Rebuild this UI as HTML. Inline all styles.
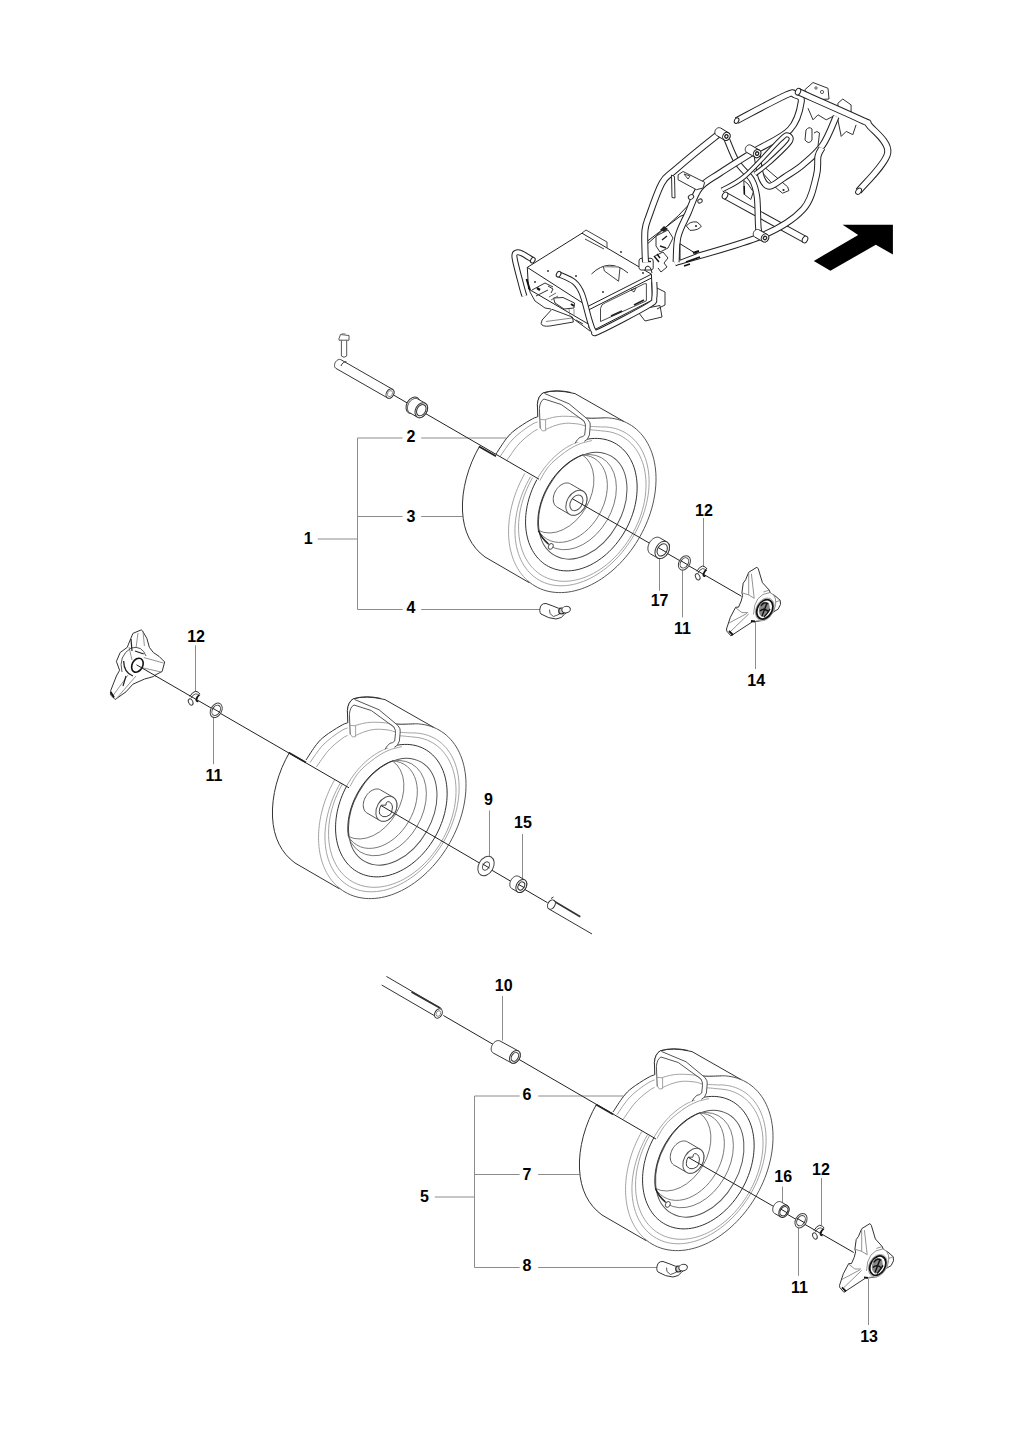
<!DOCTYPE html><html><head><meta charset="utf-8"><style>html,body{margin:0;padding:0;background:#fff;}svg{display:block}</style></head><body>
<svg width="1024" height="1435" viewBox="0 0 1024 1435">
<rect width="1024" height="1435" fill="#fff"/>
<g font-family="Liberation Sans, sans-serif" font-weight="bold" font-size="16" fill="#000">
<text x="303.7" y="544.0">1</text>
<text x="406.5" y="442.0">2</text>
<text x="406.5" y="521.5">3</text>
<text x="406.5" y="613.3">4</text>
<text x="695.0" y="515.6">12</text>
<text x="650.7" y="606.3">17</text>
<text x="674.0" y="634.0">11</text>
<text x="747.3" y="685.5">14</text>
<text x="187.2" y="641.5">12</text>
<text x="205.4" y="781.0">11</text>
<text x="484.0" y="805.3">9</text>
<text x="514.0" y="828.0">15</text>
<text x="494.8" y="990.8">10</text>
<text x="522.6" y="1100.3">6</text>
<text x="522.6" y="1179.5">7</text>
<text x="420.1" y="1202.3">5</text>
<text x="522.6" y="1271.3">8</text>
<text x="774.3" y="1181.5">16</text>
<text x="812.0" y="1174.5">12</text>
<text x="791.0" y="1292.5">11</text>
<text x="860.2" y="1341.7">13</text>
</g>
<g stroke="#8c8c8c" stroke-width="1" fill="none">
<path d="M357.5,438 V609.5"/>
<path d="M357.5,438 H402.6 M421.2,438 H506.5"/>
<path d="M357.5,516.5 H402.6 M421.2,516.5 H462.5"/>
<path d="M317.8,539 H357.5"/>
<path d="M357.5,609.5 H402.6 M421.2,609.5 H541"/>
<path d="M474.5,1096 V1267.5"/>
<path d="M474.5,1096 H519.6 M538.2,1096 H623.5"/>
<path d="M474.5,1174.5 H519.6 M538.2,1174.5 H579.5"/>
<path d="M434.8,1197 H474.5"/>
<path d="M474.5,1267.5 H519.6 M538.2,1267.5 H658"/>
<path d="M703.5,518 V566.6"/>
<path d="M659.5,558.75 V590.8"/>
<path d="M682.5,569 V617.3"/>
<path d="M755.5,621 V669"/>
<path d="M195.5,645.3 V691.8"/>
<path d="M213.5,717.8 V764.2"/>
<path d="M489.5,810.5 V855.8"/>
<path d="M522.5,834 V880"/>
<path d="M502.5,996 V1040.5"/>
<path d="M782.5,1186.7 V1202.3"/>
<path d="M821.5,1178 V1225"/>
<path d="M798.5,1228 V1275.8"/>
<path d="M868.5,1279 V1325"/>
</g>
<defs>
<g id="tire">
<path d="M479.5,446.4 C468,466 461.5,490 462.5,511 C463.5,532 472,548 485,557 L529,583 C545,591 560,594 580,589 L640,540 L658,480 L621.4,420.5 L570.6,392.4 Q557,389.5 543.3,392.8 Q537.5,398 537.4,404.5 L537.8,416 L496,454 Z" fill="#fff" stroke="none"/>
<path d="M479.5,446.4 C468,466 461.5,490 462.5,511 C463.5,532 471.5,547 485,557 L528.9,582.5" stroke="#333" stroke-width="1" fill="none" stroke-linejoin="round" stroke-linecap="round" />
<path d="M537.8,416.5 L537.4,404.5 Q538,396 543.3,392.8 Q556,389 575,393.6 L623.6,421.3" stroke="#333" stroke-width="1" fill="none" stroke-linejoin="round" stroke-linecap="round" />
<path d="M496.00,454.00 C497.73,451.43 503.23,442.60 506.40,438.60 C509.57,434.60 511.07,433.07 515.00,430.00 C518.93,426.93 526.10,422.42 530.00,420.20 C533.90,417.98 534.73,417.53 538.40,416.70 C542.07,415.87 547.53,415.38 552.00,415.20 C556.47,415.02 560.80,415.30 565.20,415.60 C569.60,415.90 574.27,416.57 578.40,417.00 C582.53,417.43 585.47,418.07 590.00,418.20 C594.53,418.33 603.00,417.87 605.60,417.80" stroke="#333" stroke-width="1" fill="none"/>
<path d="M605.57,417.77 L608.74,417.92 L611.86,418.26 L614.91,418.77 L617.90,419.47 L620.81,420.35 L623.64,421.40 L626.38,422.62 L629.03,424.02 L631.58,425.59 L634.04,427.32 L636.38,429.22 L638.61,431.27 L640.72,433.48 L642.72,435.84 L644.58,438.34 L646.32,440.98 L647.92,443.76 L649.38,446.66 L650.71,449.69 L651.89,452.83 L652.93,456.08 L653.82,459.43 L654.56,462.88 L655.15,466.42 L655.59,470.04 L655.88,473.73 L656.01,477.48 L655.99,481.30 L655.81,485.16 L655.48,489.07 L655.00,493.01 L654.37,496.97 L653.59,500.95 L652.66,504.94 L651.58,508.93 L650.36,512.92 L648.99,516.88 L647.49,520.83 L645.85,524.74 L644.08,528.61 L642.18,532.43 L640.15,536.19 L638.00,539.89 L635.74,543.52 L633.37,547.06 L630.89,550.52 L628.31,553.89 L625.63,557.15 L622.86,560.31 L620.01,563.35 L617.08,566.27 L614.07,569.06 L611.00,571.72 L607.87,574.24 L604.69,576.61 L601.46,578.84 L598.19,580.91 L594.88,582.83 L591.55,584.58 L588.21,586.17 L584.84,587.59 L581.48,588.84 L578.11,589.91 L574.76,590.81 L571.42,591.53 L568.10,592.07 L564.81,592.42 L561.56,592.60 L558.35,592.59 L555.19,592.40 L552.09,592.03 L549.05,591.48 L546.08,590.75 L543.18,589.84 L540.37,588.75 L537.65,587.49 L535.01,586.06 L532.48,584.46 L530.05,582.69 L527.73,580.76" stroke="#555" stroke-width="1" fill="none"/>
<path d="M528.60,581.52 L526.82,579.94 L525.12,578.27 L523.49,576.51 L521.93,574.65 L520.45,572.70 L519.05,570.67 L517.73,568.55 L516.50,566.36 L515.35,564.08 L514.28,561.73 L513.30,559.30 L512.41,556.81 L511.61,554.25 L510.91,551.62 L510.29,548.94 L509.76,546.20 L509.33,543.41 L508.99,540.57 L508.75,537.68 L508.60,534.76 L508.54,531.79 L508.58,528.79 L508.71,525.76 L508.94,522.70 L509.26,519.62 L509.68,516.53 L510.19,513.41 L510.79,510.29 L511.48,507.16 L512.27,504.03 L513.14,500.90 L514.10,497.78 L515.15,494.66 L516.29,491.56 L517.51,488.47 L518.81,485.41 L520.20,482.37 L521.66,479.37 L523.21,476.39 L524.82,473.45" stroke="#999" stroke-width="0.9" fill="none"/>
<path d="M500.00,456.60 C502.17,453.67 508.00,444.17 513.00,439.00 C518.00,433.83 525.35,428.52 530.00,425.60 C534.65,422.68 535.90,422.02 540.90,421.50 C545.90,420.98 553.48,421.83 560.00,422.50 C566.52,423.17 574.97,424.85 580.00,425.50 C585.03,426.15 586.37,426.15 590.20,426.40 C594.03,426.65 600.87,426.90 603.00,427.00" stroke="#999" stroke-width="0.9" fill="none"/>
<path d="M603.03,426.88 L606.25,427.00 L609.40,427.33 L612.48,427.86 L615.48,428.59 L618.40,429.53 L621.22,430.66 L623.94,431.99 L626.55,433.52 L629.05,435.23 L631.42,437.13 L633.67,439.20 L635.78,441.45 L637.75,443.87 L639.58,446.45 L641.26,449.19 L642.78,452.07 L644.15,455.10 L645.36,458.25 L646.40,461.53 L647.28,464.93 L647.99,468.44 L648.52,472.04 L648.89,475.73 L649.08,479.50 L649.09,483.34 L648.94,487.24 L648.61,491.19 L648.10,495.18 L647.43,499.20 L646.58,503.24 L645.57,507.28 L644.40,511.32 L643.06,515.35 L641.56,519.36 L639.91,523.33 L638.11,527.26 L636.17,531.13 L634.08,534.94 L631.86,538.67 L629.51,542.32 L627.04,545.88 L624.45,549.34 L621.75,552.68 L618.95,555.91 L616.05,559.00 L613.06,561.96 L610.00,564.77 L606.86,567.44 L603.65,569.94 L600.40,572.28 L597.09,574.45 L593.74,576.45 L590.37,578.26 L586.97,579.88 L583.56,581.31 L580.14,582.55 L576.73,583.60 L573.33,584.44 L569.96,585.08 L566.62,585.51 L563.31,585.74 L560.06,585.77 L556.86,585.59 L553.73,585.20 L550.67,584.61 L547.69,583.82 L544.80,582.82 L542.01,581.63 L539.32,580.24 L536.75,578.66 L534.28,576.89 L531.95,574.94 L529.74,572.81 L527.67,570.51 L525.74,568.05 L523.95,565.42 L522.32,562.64 L520.84,559.72 L519.52,556.65 L518.36,553.46 L517.36,550.14 L516.54,546.71 L515.88,543.18 L515.39,539.55 L515.08,535.83 L514.94,532.04 L514.98,528.18 L515.18,524.27 L515.56,520.30 L516.12,516.31 L516.84,512.28 L517.73,508.24 L518.79,504.20 L520.02,500.16 L521.40,496.13 L522.94,492.14 L524.64,488.18 L526.48,484.26 L528.47,480.41 L530.59,476.62" stroke="#999" stroke-width="0.9" fill="none"/>
<path d="M506.40,461.00 C508.33,458.33 514.07,449.47 518.00,445.00 C521.93,440.53 526.30,436.91 530.00,434.20 C533.70,431.49 535.20,429.70 540.20,428.75 C545.20,427.80 553.37,428.41 560.00,428.50 C566.63,428.59 574.97,429.08 580.00,429.30 C585.03,429.52 586.37,429.52 590.20,429.80 C594.03,430.08 600.87,430.80 603.00,431.00" stroke="#999" stroke-width="0.9" fill="none"/>
<path d="M603.01,431.01 L606.03,431.27 L609.00,431.73 L611.89,432.37 L614.70,433.20 L617.44,434.22 L620.08,435.42 L622.63,436.80 L625.07,438.36 L627.41,440.10 L629.63,442.00 L631.72,444.07 L633.69,446.29 L635.53,448.67 L637.24,451.20 L638.80,453.86 L640.22,456.66 L641.49,459.59 L642.61,462.63 L643.58,465.79 L644.38,469.05 L645.03,472.40 L645.52,475.84 L645.85,479.36 L646.01,482.95 L646.01,486.59 L645.85,490.29 L645.53,494.02 L645.04,497.79 L644.40,501.58 L643.59,505.38 L642.63,509.18 L641.51,512.97 L640.25,516.75 L638.83,520.50 L637.27,524.21 L635.57,527.88 L633.73,531.49 L631.76,535.03 L629.67,538.50 L627.45,541.89 L625.12,545.19 L622.67,548.39 L620.13,551.48 L617.49,554.45 L614.76,557.30 L611.94,560.02 L609.05,562.60 L606.09,565.04 L603.07,567.32 L600.00,569.45 L596.88,571.42 L593.72,573.22 L590.54,574.85 L587.33,576.30 L584.11,577.57 L580.89,578.66 L577.67,579.57 L574.46,580.29 L571.27,580.81 L568.11,581.15 L564.99,581.29 L561.91,581.25 L558.88,581.01 L555.91,580.57 L553.01,579.95 L550.19,579.14 L547.44,578.14 L544.79,576.96 L542.23,575.60 L539.78,574.06 L537.43,572.34 L535.20,570.46 L533.08,568.41 L531.10,566.20 L529.24,563.84 L527.52,561.33 L525.95,558.68 L524.51,555.90 L523.22,552.99 L522.09,549.95 L521.10,546.81 L520.28,543.56 L519.61,540.22 L519.10,536.79 L518.76,533.28 L518.58,529.70 L518.56,526.06 L518.70,522.37 L519.01,518.64 L519.47,514.87 L520.10,511.09 L520.89,507.29 L521.83,503.49 L522.93,499.69 L524.18,495.91 L525.58,492.16 L527.13,488.44 L528.81,484.77 L530.64,481.15 L532.59,477.60" stroke="#999" stroke-width="0.9" fill="none"/>
<path d="M575.31,442.88 L578.07,441.77 L580.84,440.81 L583.61,440.01 L586.38,439.37 L589.13,438.89 L591.86,438.57 L594.57,438.41 L597.25,438.42 L599.88,438.59 L602.47,438.93 L605.01,439.42 L607.49,440.08 L609.91,440.90 L612.25,441.87 L614.52,443.00 L616.70,444.28 L618.80,445.71 L620.81,447.29 L622.72,449.01 L624.53,450.86 L626.23,452.85 L627.82,454.96 L629.29,457.20 L630.65,459.56 L631.89,462.02 L633.00,464.59 L633.98,467.26 L634.83,470.02 L635.55,472.87 L636.14,475.80 L636.59,478.79 L636.91,481.85 L637.09,484.97 L637.13,488.14 L637.03,491.34 L636.80,494.58 L636.43,497.85 L635.92,501.13 L635.28,504.42 L634.51,507.71 L633.60,510.99 L632.57,514.25 L631.40,517.50 L630.12,520.71 L628.72,523.88 L627.19,527.00 L625.56,530.07 L623.82,533.08 L621.97,536.01 L620.02,538.87 L617.97,541.65 L615.84,544.33 L613.62,546.91 L611.32,549.40 L608.95,551.77 L606.50,554.02 L604.00,556.15 L601.44,558.16 L598.83,560.03 L596.18,561.76 L593.49,563.36 L590.77,564.81 L588.03,566.11 L585.27,567.26 L582.50,568.26 L579.73,569.10 L576.96,569.78 L574.21,570.29 L571.47,570.65 L568.75,570.85 L566.07,570.88 L563.42,570.74 L560.82,570.45 L558.27,569.99 L555.78,569.37 L553.35,568.59 L550.98,567.65 L548.70,566.56 L546.49,565.32 L544.37,563.92 L542.34,562.38 L540.41,560.70 L538.57,558.87 L536.85,556.92 L535.23,554.83 L533.73,552.62 L532.34,550.30 L531.08,547.86 L529.94,545.31 L528.92,542.66 L528.04,539.92 L527.29,537.10 L526.67,534.19 L526.18,531.21 L525.83,528.16 L525.62,525.06 L525.55,521.90 L525.61,518.71 L525.81,515.47 L526.15,512.21 L526.63,508.94 L527.23,505.65 L527.98,502.36 L528.85,499.07 L529.86,495.80 L530.99,492.55 L532.24,489.33 L533.62,486.15 L535.11,483.02 L536.72,479.93" stroke="#333" stroke-width="1" fill="none"/>
<path d="M536.72,479.93 L538.14,477.41 L539.64,474.94 L541.21,472.52 L542.85,470.15 L544.55,467.84 L546.32,465.59 L548.14,463.41 L550.02,461.30 L551.96,459.27 L553.95,457.31 L555.98,455.44 L558.06,453.64 L560.17,451.94 L562.33,450.32 L564.51,448.80 L566.73,447.38 L568.96,446.05 L571.22,444.82 L573.50,443.69 L575.79,442.67" stroke="#999" stroke-width="0.9" fill="none"/>
<path d="M540.00,480.50 C541.00,478.75 543.67,473.25 546.00,470.00 C548.33,466.75 550.32,464.33 554.00,461.00 C557.68,457.67 563.77,452.87 568.10,450.00 C572.43,447.13 576.02,445.37 580.00,443.80 C583.98,442.23 590.00,441.13 592.00,440.60" stroke="#999" stroke-width="0.9" fill="none"/>
<ellipse cx="582.74" cy="505.68" rx="57.12" ry="39.25" transform="rotate(-60.58 582.74 505.68)" stroke="#555" stroke-width="1" fill="none"/>
<path d="M538.4,530.4 A57.12,39.25 -60.58 0 1 583.5,454.5" stroke="#2a2a2a" stroke-width="1" fill="none"/>
<path d="M582.5,455 A51.0,35.70 -60 1 1 538.4,530.4" stroke="#6a6a6a" stroke-width="0.9" fill="none"/>
<path d="M582.5,455 A46.8,32.76 -60 1 1 538.4,530.4" stroke="#6a6a6a" stroke-width="0.9" fill="none"/>
<path d="M582.5,455 A43.7,30.59 -60 0 1 538.4,530.4" stroke="#6a6a6a" stroke-width="0.9" fill="none"/>
<path d="M537.6,431 L537.4,404.5 Q538,396 543.3,392.8 L569,403.75 L587.8,419.4 Q591,424 590.2,427 L589.4,435 Q588,440 584.7,441.25 L575.3,442.8 L562,447 L550,455 L541,462 Z" fill="#fff" stroke="none"/>
<path d="M545.60,419.40 C547.17,419.00 551.73,417.52 555.00,417.00 C558.27,416.48 561.30,416.18 565.20,416.25 C569.10,416.32 575.28,416.61 578.40,417.40 C581.52,418.19 582.98,420.40 583.90,421.00" stroke="#999" stroke-width="0.9" fill="none" stroke-linejoin="round" stroke-linecap="round" />
<path d="M545.60,429.50 C547.17,428.85 551.73,426.63 555.00,425.60 C558.27,424.57 561.37,423.57 565.20,423.30 C569.03,423.03 574.70,423.55 578.00,424.00 C581.30,424.45 583.83,425.67 585.00,426.00" stroke="#999" stroke-width="0.9" fill="none" stroke-linejoin="round" stroke-linecap="round" />
<path d="M544.8,393.6 L569,403.75 L587.8,419.4 Q591,423 590.2,426 L589.4,435 Q588,440 584.7,441.25" stroke="#555" stroke-width="1" fill="none" stroke-linejoin="round" stroke-linecap="round" />
<path d="M540.2,428 L539.4,408.4 Q540,401 544,399 L561.25,404.5 L583.9,421 Q585.8,424 585.5,427.2 L584.7,435 Q583,437 580,437.3 Q577,439.5 575.3,442.8" stroke="#555" stroke-width="1" fill="none" stroke-linejoin="round" stroke-linecap="round" />
<path d="M540.2,419.4 L545.6,419.8 L545.6,430.6 L542.5,431 L540.2,428" stroke="#999" stroke-width="0.9" fill="none" stroke-linejoin="round" stroke-linecap="round" />
<path d="M537.8,416.5 L537.4,404.5 Q538,396 543.3,392.8 Q556,389 570.6,392.4" stroke="#333" stroke-width="1" fill="none" stroke-linejoin="round" stroke-linecap="round" />
</g>
<g id="hubA">
<path d="M553.27,499.77 L553.28,498.52 L553.40,497.23 L553.64,495.93 L553.99,494.62 L554.44,493.32 L555.00,492.04 L555.66,490.80 L556.40,489.61 L557.23,488.49 L558.13,487.44 L559.09,486.49 L560.10,485.63 L561.15,484.88 L562.23,484.24 L563.33,483.73 L564.44,483.35 L565.53,483.10 L566.61,482.99 L567.66,483.01 L568.66,483.17 L569.61,483.47 L570.50,483.90 L583.10,491.20 L583.91,491.75 L584.65,492.43 L585.29,493.22 L585.83,494.11 L586.27,495.10 L586.61,496.17 L586.83,497.32 L586.93,498.53 L586.92,499.78 L586.80,501.07 L586.56,502.37 L586.21,503.68 L585.76,504.98 L585.20,506.26 L584.54,507.50 L583.80,508.69 L582.97,509.81 L582.07,510.86 L581.11,511.81 L580.10,512.67 L579.05,513.42 L577.97,514.06 L576.87,514.57 L575.76,514.95 L574.67,515.20 L573.59,515.31 L572.54,515.29 L571.54,515.13 L570.59,514.83 L569.70,514.40 L557.10,507.10 L556.29,506.55 L555.55,505.87 L554.91,505.08 L554.37,504.19 L553.93,503.20 L553.59,502.13 L553.37,500.98 Z" stroke="#555" stroke-width="1" fill="#fff"/>
<ellipse cx="576.4" cy="502.8" rx="13.4" ry="9.4" transform="rotate(-60 576.4 502.8)" stroke="#555" stroke-width="1" fill="#fff"/>
<ellipse cx="576.4" cy="502.8" rx="8.4" ry="5.8" transform="rotate(-60 576.4 502.8)" stroke="#555" stroke-width="1" fill="none"/>
</g>
<g id="hubB">
<path d="M553.27,499.77 L553.28,498.52 L553.40,497.23 L553.64,495.93 L553.99,494.62 L554.44,493.32 L555.00,492.04 L555.66,490.80 L556.40,489.61 L557.23,488.49 L558.13,487.44 L559.09,486.49 L560.10,485.63 L561.15,484.88 L562.23,484.24 L563.33,483.73 L564.44,483.35 L565.53,483.10 L566.61,482.99 L567.66,483.01 L568.66,483.17 L569.61,483.47 L570.50,483.90 L583.10,491.20 L583.91,491.75 L584.65,492.43 L585.29,493.22 L585.83,494.11 L586.27,495.10 L586.61,496.17 L586.83,497.32 L586.93,498.53 L586.92,499.78 L586.80,501.07 L586.56,502.37 L586.21,503.68 L585.76,504.98 L585.20,506.26 L584.54,507.50 L583.80,508.69 L582.97,509.81 L582.07,510.86 L581.11,511.81 L580.10,512.67 L579.05,513.42 L577.97,514.06 L576.87,514.57 L575.76,514.95 L574.67,515.20 L573.59,515.31 L572.54,515.29 L571.54,515.13 L570.59,514.83 L569.70,514.40 L557.10,507.10 L556.29,506.55 L555.55,505.87 L554.91,505.08 L554.37,504.19 L553.93,503.20 L553.59,502.13 L553.37,500.98 Z" stroke="#555" stroke-width="1" fill="#fff"/>
<ellipse cx="576.4" cy="502.8" rx="13.4" ry="9.4" transform="rotate(-60 576.4 502.8)" stroke="#555" stroke-width="1" fill="#fff"/>
<path d="M571.1,499.2 L575.9,499.2 Q575.8,496.5 577.5,495.6 Q581.5,495.5 582.5,501 Q582,507.5 579.9,508.9 Q576,511.5 572.8,510.6 Q568.5,508.5 569.3,505.4 Q569.5,501.5 571.1,499.2 Z" stroke="#444" stroke-width="1" fill="none"/>
</g>
<g id="valvehole">
<path d="M538.4,530.4 Q541,537 548.5,544" stroke="#1a1a1a" stroke-width="1.3" fill="none"/>
<ellipse cx="550.8" cy="546.4" rx="3" ry="2.2" transform="rotate(-60 550.8 546.4)" stroke="#555" stroke-width="0.9" fill="#fff"/>
</g>
</defs>
<use href="#tire"/>
<use href="#hubA"/>
<use href="#valvehole"/>
<use href="#tire" transform="translate(-190,306)"/>
<use href="#hubB" transform="translate(-190,306)"/>
<use href="#tire" transform="translate(117,658)"/>
<use href="#hubB" transform="translate(117,658)"/>
<use href="#valvehole" transform="translate(117,658)"/>
<g stroke="#222" stroke-width="1" fill="none">
<path d="M394,395.3 L539,479.2"/>
<path d="M572.2,498.6 L741.6,596.3"/>
<path d="M479,446.5 L496,456.3" stroke-width="1.8"/>
<path d="M154.7,675.4 L349,787.8"/>
<path d="M381.1,805.6 L547.5,902.7"/>
<path d="M289,752.7 L306,762.5" stroke-width="1.8"/>
<path d="M443.4,1015.5 L656,1139"/>
<path d="M688.1,1157.3 L853.75,1252.5"/>
<path d="M596,1104.5 L613,1114.3" stroke-width="1.8"/>
</g>
<path d="M341.4,340.2 L341.4,356 Q344,358.5 346.7,356 L346.7,340.2" stroke="#555" stroke-width="1" fill="#fff"/>
<path d="M339,338.5 L340.5,334.5 L349,335.5 L349,340.2 L339,340.2 Z" stroke="#555" stroke-width="1" fill="#fff"/>
<path d="M341.5,333.8 L345.5,333.8" stroke="#888" stroke-width="1"/>
<path d="M334.50,365.50 L334.51,365.11 L334.55,364.71 L334.62,364.30 L334.71,363.89 L334.84,363.48 L335.00,363.08 L335.18,362.68 L335.38,362.30 L335.61,361.93 L335.86,361.57 L336.14,361.24 L336.43,360.93 L336.73,360.64 L337.05,360.38 L337.38,360.14 L337.72,359.94 L338.06,359.76 L338.41,359.63 L338.76,359.52 L339.11,359.45 L339.45,359.42 L339.78,359.42 L340.11,359.45 L340.42,359.52 L340.72,359.63 L341.00,359.77 L392.50,389.27 L392.76,389.44 L393.00,389.65 L393.22,389.88 L393.42,390.15 L393.58,390.44 L393.72,390.75 L393.84,391.08 L393.92,391.44 L393.97,391.81 L394.00,392.20 L393.99,392.59 L393.95,392.99 L393.88,393.40 L393.79,393.81 L393.66,394.22 L393.50,394.62 L393.32,395.02 L393.12,395.40 L392.89,395.77 L392.64,396.12 L392.36,396.46 L392.07,396.77 L391.77,397.06 L391.45,397.32 L391.12,397.56 L390.78,397.76 L390.44,397.94 L390.09,398.07 L389.74,398.18 L389.39,398.25 L389.05,398.29 L388.72,398.29 L388.39,398.25 L388.08,398.18 L387.78,398.07 L387.50,397.93 L336.00,368.43 L335.74,368.26 L335.50,368.05 L335.28,367.82 L335.08,367.55 L334.92,367.26 L334.78,366.95 L334.66,366.62 L334.58,366.26 L334.53,365.89 Z" stroke="#333" stroke-width="1" fill="#fff" stroke-linejoin="round"/>
<ellipse cx="390" cy="393.6" rx="5.0" ry="3.6" transform="rotate(-60 390 393.6)" stroke="#333" stroke-width="1" fill="#fff"/>
<ellipse cx="390" cy="393.6" rx="3.2" ry="2.3" transform="rotate(-60 390 393.6)" stroke="#777" stroke-width="0.8" fill="none"/>
<path d="M341,366 A5,3.6 -60 0 1 346.5,361.8" stroke="#333" stroke-width="1" fill="none"/>
<ellipse cx="413" cy="405.2" rx="8.8" ry="6.3" transform="rotate(-60 413 405.2)" stroke="#333" stroke-width="1" fill="#fff"/>
<path d="M407.45,408.17 L407.46,407.54 L407.52,406.90 L407.64,406.25 L407.79,405.59 L408.00,404.94 L408.24,404.30 L408.53,403.67 L408.86,403.05 L409.23,402.46 L409.63,401.89 L410.07,401.35 L410.53,400.85 L411.02,400.39 L411.52,399.97 L412.05,399.59 L412.59,399.26 L413.14,398.99 L413.69,398.76 L414.25,398.59 L414.80,398.48 L415.34,398.42 L415.87,398.42 L416.39,398.47 L416.88,398.58 L417.36,398.75 L417.80,398.97 L425.30,403.27 L425.71,403.55 L426.10,403.87 L426.44,404.25 L426.75,404.66 L427.01,405.12 L427.23,405.62 L427.41,406.16 L427.54,406.73 L427.62,407.32 L427.65,407.93 L427.64,408.56 L427.57,409.20 L427.46,409.86 L427.31,410.51 L427.10,411.16 L426.86,411.80 L426.57,412.44 L426.24,413.05 L425.87,413.64 L425.47,414.21 L425.03,414.75 L424.57,415.25 L424.08,415.71 L423.57,416.13 L423.05,416.51 L422.51,416.84 L421.96,417.11 L421.41,417.34 L420.86,417.51 L420.30,417.62 L419.76,417.68 L419.23,417.69 L418.71,417.63 L418.22,417.52 L417.75,417.35 L417.30,417.13 L409.80,412.83 L409.38,412.55 L409.00,412.23 L408.66,411.85 L408.35,411.44 L408.09,410.98 L407.87,410.48 L407.69,409.94 L407.56,409.38 L407.48,408.78 Z" stroke="#333" stroke-width="1" fill="#fff" stroke-linejoin="round"/>
<ellipse cx="421.3" cy="410.2" rx="8.0" ry="5.7" transform="rotate(-60 421.3 410.2)" stroke="#333" stroke-width="1" fill="#fff"/>
<ellipse cx="421.3" cy="410.2" rx="6.0" ry="4.3" transform="rotate(-60 421.3 410.2)" stroke="#333" stroke-width="1" fill="none"/>
<path d="M647.90,548.59 L647.92,547.86 L648.00,547.11 L648.13,546.36 L648.32,545.60 L648.56,544.85 L648.85,544.10 L649.19,543.36 L649.57,542.65 L650.00,541.96 L650.46,541.30 L650.97,540.68 L651.50,540.09 L652.06,539.55 L652.65,539.06 L653.26,538.62 L653.88,538.23 L654.51,537.91 L655.14,537.64 L655.78,537.44 L656.41,537.30 L657.03,537.23 L657.64,537.22 L658.24,537.28 L658.80,537.40 L659.34,537.59 L659.85,537.85 L666.85,541.85 L667.32,542.16 L667.76,542.53 L668.15,542.96 L668.50,543.44 L668.79,543.97 L669.04,544.55 L669.24,545.17 L669.38,545.82 L669.47,546.50 L669.50,547.21 L669.48,547.94 L669.40,548.69 L669.27,549.44 L669.08,550.20 L668.84,550.96 L668.55,551.70 L668.21,552.44 L667.83,553.15 L667.40,553.84 L666.94,554.50 L666.43,555.12 L665.90,555.71 L665.34,556.25 L664.75,556.74 L664.14,557.18 L663.52,557.57 L662.89,557.89 L662.26,558.16 L661.62,558.36 L660.99,558.50 L660.37,558.57 L659.76,558.58 L659.16,558.52 L658.60,558.40 L658.06,558.21 L657.55,557.95 L650.55,553.95 L650.08,553.64 L649.64,553.27 L649.25,552.84 L648.90,552.36 L648.61,551.83 L648.36,551.25 L648.16,550.63 L648.02,549.98 L647.93,549.30 Z" stroke="#333" stroke-width="1" fill="#fff" stroke-linejoin="round"/>
<ellipse cx="662.2" cy="549.9" rx="9.3" ry="6.5" transform="rotate(-60 662.2 549.9)" stroke="#333" stroke-width="1" fill="#fff"/>
<ellipse cx="662.2" cy="549.9" rx="6.6" ry="4.6" transform="rotate(-60 662.2 549.9)" stroke="#333" stroke-width="1" fill="none"/>
<path d="M658.3,547.6 L666.5,552.4" stroke="#222" stroke-width="1"/>
<ellipse cx="684.4" cy="562.9" rx="7.7" ry="5.4" transform="rotate(-60 684.4 562.9)" stroke="#444" stroke-width="1" fill="#fff"/>
<ellipse cx="684.4" cy="562.9" rx="5.5" ry="3.8" transform="rotate(-60 684.4 562.9)" stroke="#444" stroke-width="1" fill="none"/>
<path d="M680.5,560.6 L688.3,565.1" stroke="#222" stroke-width="1"/>
<path d="M696.80,571.30 Q699.30,566.80 702.50,566.00 Q705.80,566.50 707.00,569.00" stroke="#333" stroke-width="1" fill="none"/>
<path d="M698.10,573.00 Q699.80,569.00 702.80,568.60 Q704.80,568.80 705.90,570.20" stroke="#444" stroke-width="0.9" fill="none"/>
<path d="M706.50,569.50 Q703.60,571.80 703.30,574.60 Q703.60,576.60 705.30,576.00" stroke="#111" stroke-width="1.7" fill="none"/>
<ellipse cx="697.70" cy="576.80" rx="2.1" ry="3.3" transform="rotate(-25 697.70 576.80)" stroke="#444" stroke-width="1" fill="none"/>
<ellipse cx="216.2" cy="710.3" rx="7.7" ry="5.4" transform="rotate(-60 216.2 710.3)" stroke="#444" stroke-width="1" fill="#fff"/>
<ellipse cx="216.2" cy="710.3" rx="5.5" ry="3.8" transform="rotate(-60 216.2 710.3)" stroke="#444" stroke-width="1" fill="none"/>
<path d="M212.3,708 L220.1,712.5" stroke="#222" stroke-width="1"/>
<path d="M189.80,696.50 Q192.30,692.00 195.50,691.20 Q198.80,691.70 200.00,694.20" stroke="#333" stroke-width="1" fill="none"/>
<path d="M191.10,698.20 Q192.80,694.20 195.80,693.80 Q197.80,694.00 198.90,695.40" stroke="#444" stroke-width="0.9" fill="none"/>
<path d="M199.50,694.70 Q196.60,697.00 196.30,699.80 Q196.60,701.80 198.30,701.20" stroke="#111" stroke-width="1.7" fill="none"/>
<ellipse cx="190.70" cy="702.00" rx="2.1" ry="3.3" transform="rotate(-25 190.70 702.00)" stroke="#444" stroke-width="1" fill="none"/>
<ellipse cx="486" cy="866" rx="10.4" ry="7.3" transform="rotate(-60 486 866)" stroke="#444" stroke-width="1" fill="#fff"/>
<ellipse cx="486" cy="866" rx="4.5" ry="3.1" transform="rotate(-60 486 866)" stroke="#444" stroke-width="1" fill="none"/>
<path d="M482.5,864 L489.5,868" stroke="#222" stroke-width="1"/>
<path d="M509.80,884.52 L509.82,883.97 L509.88,883.41 L509.98,882.84 L510.12,882.27 L510.30,881.70 L510.51,881.14 L510.77,880.59 L511.06,880.05 L511.38,879.53 L511.73,879.03 L512.11,878.56 L512.51,878.12 L512.93,877.72 L513.38,877.35 L513.83,877.02 L514.30,876.73 L514.77,876.48 L515.25,876.28 L515.73,876.13 L516.21,876.02 L516.68,875.97 L517.14,875.97 L517.58,876.01 L518.01,876.10 L518.42,876.25 L518.80,876.44 L524.80,879.94 L525.16,880.17 L525.48,880.46 L525.78,880.78 L526.04,881.14 L526.26,881.54 L526.45,881.98 L526.60,882.44 L526.71,882.93 L526.77,883.45 L526.80,883.98 L526.78,884.53 L526.73,885.09 L526.62,885.66 L526.49,886.23 L526.30,886.80 L526.09,887.36 L525.83,887.91 L525.54,888.45 L525.22,888.97 L524.87,889.47 L524.49,889.94 L524.09,890.38 L523.67,890.78 L523.23,891.15 L522.77,891.48 L522.30,891.77 L521.83,892.02 L521.35,892.22 L520.87,892.37 L520.39,892.48 L519.92,892.53 L519.46,892.53 L519.02,892.49 L518.59,892.40 L518.18,892.25 L517.80,892.06 L511.80,888.56 L511.44,888.33 L511.12,888.04 L510.82,887.72 L510.56,887.36 L510.33,886.96 L510.15,886.52 L510.00,886.06 L509.89,885.57 L509.82,885.05 Z" stroke="#333" stroke-width="1" fill="#fff" stroke-linejoin="round"/>
<ellipse cx="521.3" cy="886" rx="7.0" ry="4.9" transform="rotate(-60 521.3 886)" stroke="#333" stroke-width="1" fill="#fff"/>
<ellipse cx="521.3" cy="886" rx="4.3" ry="3.0" transform="rotate(-60 521.3 886)" stroke="#333" stroke-width="1" fill="none"/>
<path d="M518.3,884.3 L524.3,887.7" stroke="#222" stroke-width="1"/>
<path d="M549,909 L592,934" stroke="#333" stroke-width="1"/>
<path d="M553.75,901 L580.3,916.7" stroke="#333" stroke-width="1.7"/>
<ellipse cx="551.4" cy="904.6" rx="5.0" ry="3.5" transform="rotate(-60 551.4 904.6)" stroke="#333" stroke-width="1" fill="#fff"/>
<path d="M551,898.5 L553.5,897" stroke="#333" stroke-width="1"/>
<path d="M386.4,976.4 L441.5,1008.6 M381.7,985 L435,1016" stroke="#333" stroke-width="1"/>
<path d="M411.5,992 L440,1008" stroke="#333" stroke-width="1.8"/>
<ellipse cx="438.4" cy="1013.5" rx="5.0" ry="3.5" transform="rotate(-60 438.4 1013.5)" stroke="#333" stroke-width="1" fill="#fff"/>
<ellipse cx="438.4" cy="1013.5" rx="3.0" ry="2.1" transform="rotate(-60 438.4 1013.5)" stroke="#777" stroke-width="0.8" fill="none"/>
<path d="M491.20,1049.00 L491.22,1048.46 L491.27,1047.91 L491.38,1047.35 L491.51,1046.79 L491.69,1046.23 L491.91,1045.67 L492.16,1045.13 L492.44,1044.60 L492.76,1044.09 L493.11,1043.60 L493.48,1043.13 L493.87,1042.70 L494.29,1042.30 L494.73,1041.93 L495.17,1041.61 L495.63,1041.32 L496.10,1041.08 L496.57,1040.88 L497.04,1040.73 L497.51,1040.62 L497.97,1040.57 L498.42,1040.56 L498.86,1040.61 L499.28,1040.70 L499.68,1040.84 L500.05,1041.02 L518.35,1050.92 L518.70,1051.16 L519.02,1051.43 L519.31,1051.75 L519.56,1052.11 L519.78,1052.50 L519.97,1052.92 L520.11,1053.38 L520.22,1053.87 L520.28,1054.37 L520.30,1054.90 L520.28,1055.44 L520.23,1055.99 L520.12,1056.55 L519.99,1057.11 L519.81,1057.67 L519.59,1058.23 L519.34,1058.77 L519.06,1059.30 L518.74,1059.81 L518.39,1060.30 L518.02,1060.77 L517.63,1061.20 L517.21,1061.60 L516.77,1061.97 L516.33,1062.29 L515.87,1062.58 L515.40,1062.82 L514.93,1063.02 L514.46,1063.17 L513.99,1063.28 L513.53,1063.33 L513.08,1063.34 L512.64,1063.29 L512.22,1063.20 L511.82,1063.06 L511.45,1062.88 L493.15,1052.98 L492.80,1052.74 L492.48,1052.47 L492.19,1052.15 L491.94,1051.79 L491.72,1051.40 L491.53,1050.97 L491.39,1050.52 L491.29,1050.04 L491.22,1049.53 Z" stroke="#333" stroke-width="1" fill="#fff" stroke-linejoin="round"/>
<ellipse cx="514.9" cy="1056.9" rx="6.9" ry="4.8" transform="rotate(-60 514.9 1056.9)" stroke="#333" stroke-width="1" fill="#fff"/>
<ellipse cx="514.9" cy="1056.9" rx="4.7" ry="3.3" transform="rotate(-60 514.9 1056.9)" stroke="#333" stroke-width="1" fill="none"/>
<path d="M772.73,1209.61 L772.74,1209.09 L772.80,1208.57 L772.89,1208.03 L773.03,1207.49 L773.20,1206.96 L773.40,1206.43 L773.64,1205.91 L773.92,1205.40 L774.22,1204.91 L774.55,1204.44 L774.91,1204.00 L775.28,1203.58 L775.68,1203.20 L776.10,1202.85 L776.53,1202.54 L776.97,1202.26 L777.42,1202.03 L777.87,1201.84 L778.32,1201.70 L778.77,1201.60 L779.21,1201.55 L779.64,1201.54 L780.06,1201.58 L780.46,1201.67 L780.84,1201.81 L781.20,1201.98 L787.20,1205.48 L787.53,1205.71 L787.84,1205.97 L788.12,1206.27 L788.36,1206.62 L788.57,1206.99 L788.75,1207.40 L788.89,1207.84 L788.99,1208.30 L789.05,1208.79 L789.07,1209.29 L789.06,1209.81 L789.00,1210.33 L788.90,1210.87 L788.77,1211.41 L788.60,1211.94 L788.40,1212.47 L788.16,1212.99 L787.88,1213.50 L787.58,1213.99 L787.25,1214.46 L786.89,1214.90 L786.51,1215.32 L786.12,1215.70 L785.70,1216.05 L785.27,1216.36 L784.83,1216.64 L784.38,1216.87 L783.93,1217.06 L783.48,1217.20 L783.03,1217.30 L782.59,1217.35 L782.16,1217.36 L781.74,1217.32 L781.34,1217.23 L780.96,1217.09 L780.60,1216.92 L774.60,1213.42 L774.26,1213.19 L773.96,1212.93 L773.68,1212.63 L773.44,1212.28 L773.23,1211.91 L773.05,1211.50 L772.91,1211.06 L772.81,1210.60 L772.75,1210.12 Z" stroke="#333" stroke-width="1" fill="#fff" stroke-linejoin="round"/>
<ellipse cx="783.9" cy="1211.2" rx="6.6" ry="4.6" transform="rotate(-60 783.9 1211.2)" stroke="#333" stroke-width="1" fill="#fff"/>
<ellipse cx="783.9" cy="1211.2" rx="5.0" ry="3.5" transform="rotate(-60 783.9 1211.2)" stroke="#333" stroke-width="1" fill="none"/>
<path d="M780.7,1209 L787.3,1212.9" stroke="#222" stroke-width="1"/>
<ellipse cx="801" cy="1220.7" rx="7.7" ry="5.4" transform="rotate(-60 801 1220.7)" stroke="#444" stroke-width="1" fill="#fff"/>
<ellipse cx="801" cy="1220.7" rx="5.5" ry="3.8" transform="rotate(-60 801 1220.7)" stroke="#444" stroke-width="1" fill="none"/>
<path d="M797.1,1218.4 L804.9,1222.9" stroke="#222" stroke-width="1"/>
<path d="M814.00,1230.50 Q816.50,1226.00 819.70,1225.20 Q823.00,1225.70 824.20,1228.20" stroke="#333" stroke-width="1" fill="none"/>
<path d="M815.30,1232.20 Q817.00,1228.20 820.00,1227.80 Q822.00,1228.00 823.10,1229.40" stroke="#444" stroke-width="0.9" fill="none"/>
<path d="M823.70,1228.70 Q820.80,1231.00 820.50,1233.80 Q820.80,1235.80 822.50,1235.20" stroke="#111" stroke-width="1.7" fill="none"/>
<ellipse cx="814.90" cy="1236.00" rx="2.1" ry="3.3" transform="rotate(-25 814.90 1236.00)" stroke="#444" stroke-width="1" fill="none"/>
<g transform="translate(0,0)">
<path d="M541,605.5 Q543,603 546,603.5 Q552,605.5 558.3,608.2 L562,608.5 L566,613 L564.7,614 Q562,618.5 556,619 Q549,618.8 541,614 Q538.5,611 541,605.5 Z" stroke="#333" stroke-width="1" fill="#fff"/>
<path d="M549.5,609.6 Q548.5,614 553.4,616.5 Q557,615.5 560.3,613.5" stroke="#444" stroke-width="0.9" fill="none"/>
<ellipse cx="561.5" cy="611" rx="2.8" ry="3" fill="#ccc" stroke="#222" stroke-width="1.1"/>
<ellipse cx="566.1" cy="609.6" rx="4.3" ry="3.3" transform="rotate(-12 566.1 609.6)" fill="#fff" stroke="#333" stroke-width="1"/>
</g>
<g transform="translate(117,658)">
<path d="M541,605.5 Q543,603 546,603.5 Q552,605.5 558.3,608.2 L562,608.5 L566,613 L564.7,614 Q562,618.5 556,619 Q549,618.8 541,614 Q538.5,611 541,605.5 Z" stroke="#333" stroke-width="1" fill="#fff"/>
<path d="M549.5,609.6 Q548.5,614 553.4,616.5 Q557,615.5 560.3,613.5" stroke="#444" stroke-width="0.9" fill="none"/>
<ellipse cx="561.5" cy="611" rx="2.8" ry="3" fill="#ccc" stroke="#222" stroke-width="1.1"/>
<ellipse cx="566.1" cy="609.6" rx="4.3" ry="3.3" transform="rotate(-12 566.1 609.6)" fill="#fff" stroke="#333" stroke-width="1"/>
</g>
<g transform="translate(0,0)">
<path d="M748.7,572.3 L756.9,567.2 L758.3,568.9 L762.4,582.6 L769.2,590.1 L770.6,593.5 L774.7,595.5 L780.2,600.3 L780.5,604.4 L778.1,609.2 L773.3,612 L764.4,620.2 L755.5,621.5 L752.8,621.5 L730.9,635.9 L726.8,631.1 L726.5,629 L730.3,617.4 L735.7,607.2 L738.5,607.2 L741.2,601 L742.6,595.5 L741.9,592.8 L743.2,583.2 L745.6,579.8 Z" stroke="#333" stroke-width="1" fill="#fff" stroke-linejoin="round"/>
<path d="M751.4,573.7 L754.2,598.3 M748.7,573 L748.7,594.9 L742,592.8 M748.7,594.9 L754.2,598.3 M735.7,607.8 L741.9,612.6 L748,612.6 M729,623 L747,613.4 M730.9,631.1 L748.7,614 M763.4,592 L769.2,590.1 M773.3,594.5 L776,602 L780.2,600.3" stroke="#777" stroke-width="0.8" fill="none"/>
<path d="M753.5,614.5 Q754,594 770,592.5 Q779,596 774,611 Q768,621 756,621" stroke="#777" stroke-width="0.8" fill="#fff"/>
<ellipse cx="764.8" cy="609.3" rx="12.0" ry="8.6" transform="rotate(-62 764.8 609.3)" stroke="#999" stroke-width="0.8" fill="#fff"/>
<ellipse cx="764.8" cy="609.3" rx="10.3" ry="7.3" transform="rotate(-62 764.8 609.3)" stroke="#111" stroke-width="1.8" fill="#fff"/>
<path d="M760,604 Q764,600 769,603 L770,609 Q767,617 762,617 Q758,614 759,609 Z" fill="#888" stroke="none"/>
<path d="M761,606 Q764,601 768,604 M760,611 Q764,607 769,612 M762,616 L767,603 M764,617 Q768,613 770,609" stroke="#111" stroke-width="1.4" fill="none"/>
<path d="M729,631 L733,635" stroke="#111" stroke-width="1.8"/>
<path d="M751,621 L755,621.5" stroke="#111" stroke-width="1.8"/>
</g>
<g transform="translate(113,656.4)">
<path d="M748.7,572.3 L756.9,567.2 L758.3,568.9 L762.4,582.6 L769.2,590.1 L770.6,593.5 L774.7,595.5 L780.2,600.3 L780.5,604.4 L778.1,609.2 L773.3,612 L764.4,620.2 L755.5,621.5 L752.8,621.5 L730.9,635.9 L726.8,631.1 L726.5,629 L730.3,617.4 L735.7,607.2 L738.5,607.2 L741.2,601 L742.6,595.5 L741.9,592.8 L743.2,583.2 L745.6,579.8 Z" stroke="#333" stroke-width="1" fill="#fff" stroke-linejoin="round"/>
<path d="M751.4,573.7 L754.2,598.3 M748.7,573 L748.7,594.9 L742,592.8 M748.7,594.9 L754.2,598.3 M735.7,607.8 L741.9,612.6 L748,612.6 M729,623 L747,613.4 M730.9,631.1 L748.7,614 M763.4,592 L769.2,590.1 M773.3,594.5 L776,602 L780.2,600.3" stroke="#777" stroke-width="0.8" fill="none"/>
<path d="M753.5,614.5 Q754,594 770,592.5 Q779,596 774,611 Q768,621 756,621" stroke="#777" stroke-width="0.8" fill="#fff"/>
<ellipse cx="764.8" cy="609.3" rx="12.0" ry="8.6" transform="rotate(-62 764.8 609.3)" stroke="#999" stroke-width="0.8" fill="#fff"/>
<ellipse cx="764.8" cy="609.3" rx="10.3" ry="7.3" transform="rotate(-62 764.8 609.3)" stroke="#111" stroke-width="1.8" fill="#fff"/>
<path d="M760,604 Q764,600 769,603 L770,609 Q767,617 762,617 Q758,614 759,609 Z" fill="#888" stroke="none"/>
<path d="M761,606 Q764,601 768,604 M760,611 Q764,607 769,612 M762,616 L767,603 M764,617 Q768,613 770,609" stroke="#111" stroke-width="1.4" fill="none"/>
<path d="M729,631 L733,635" stroke="#111" stroke-width="1.8"/>
<path d="M751,621 L755,621.5" stroke="#111" stroke-width="1.8"/>
</g>
<path d="M132.9,633.4 L141.2,629.9 L142.5,630.9 L146.9,638.5 L149.4,647.4 L153.3,652.5 L159,656.3 L164.7,662 L162.1,671.5 L155.8,674.7 L153.3,676.6 L144.4,679.1 L132.9,684.2 L126,691.8 L115.2,699.5 L110.7,695 L110.7,690.6 L116.4,676 L119.6,670.3 L116.4,661.4 L120.2,652.5 L127.2,647.4 Z" stroke="#333" stroke-width="1" fill="#fff" stroke-linejoin="round"/>
<path d="M138,633 L136.1,647.4 M143,631.5 L144.4,646 M129,647 L132,660 M128,675 L112,697 M136,676 L116,699 M143.7,657.5 L163.5,663 M141.8,667.6 L161,672" stroke="#777" stroke-width="0.8" fill="none"/>
<path d="M122,672 Q118,656 131,648 Q142,645 146,656" stroke="#444" stroke-width="0.9" fill="none"/>
<path d="M123.6,661 Q124,673 133,676" stroke="#222" stroke-width="1.3" fill="none"/>
<path d="M131,639 L132,651 M135,651 L143.7,654 M126,676 L123,686" stroke="#222" stroke-width="1.2" fill="none"/>
<ellipse cx="137.4" cy="665.2" rx="7.4" ry="5.3" transform="rotate(-62 137.4 665.2)" stroke="#111" stroke-width="1.6" fill="#fff"/>
<path d="M110.7,692 L114,697.5" stroke="#111" stroke-width="1.8"/>
<path d="M136.5,664.8 L156,676.1" stroke="#222" stroke-width="1"/>
<path d="M842.6,224.8 L892.9,224.8 L892.9,254.55 L875.8,244.8 L830.4,270.7 L813.8,260.9 L858.2,235 Z" fill="#000"/>
<g id="frame">
<path d="M527.3,267.4 L582,233.2 L651.4,274.2 L652.5,300 L592,331 L590,325 L528.5,289 Z" fill="#fff" stroke="#222" stroke-width="1"/>
<path d="M527.3,267.4 L587.9,306.4 L651.4,274.2" fill="none" stroke="#222" stroke-width="1"/>
<path d="M588.5,310 L651.4,278" fill="none" stroke="#222" stroke-width="1"/>
<path d="M587.9,306.4 L589,328" fill="none" stroke="#222" stroke-width="1"/>
<path d="M600.5,321.5 L600.5,308.6 Q601,304 605.4,302.7 L644.5,283.7 L646.4,283.7 L646.4,300.8 Z" fill="#fff" stroke="#333" stroke-width="0.9"/>
<path d="M611,316 L622,311 M634,305 L644,300" stroke="#222" stroke-width="1.6"/>
<path d="M631,290 L636,288 L634,292 Z" fill="none" stroke="#333" stroke-width="0.9"/>
<path d="M582,233 L586,230 L607,242 L607,248 M585,239 L604,249" fill="none" stroke="#444" stroke-width="1"/>
<path d="M591.5,274 Q609,257 628,273" fill="none" stroke="#333" stroke-width="1"/>
<path d="M603.4,266.6 L604.4,271 L618.6,281.25 L620,267.6" fill="none" stroke="#444" stroke-width="1"/>
<path d="M604,266.5 L619,267" stroke="#999" stroke-width="1.5"/>
<circle cx="548" cy="271" r="0.9" fill="#222"/>
<circle cx="576" cy="276" r="0.9" fill="#222"/>
<circle cx="621" cy="252" r="0.9" fill="#222"/>
<circle cx="643" cy="273" r="0.9" fill="#222"/>
<circle cx="603" cy="292" r="0.9" fill="#222"/>
<circle cx="535" cy="282" r="0.9" fill="#222"/>
<path d="M542.1,320 L551.9,309.3 L572.4,317.1 L573.4,322 L549.9,326 Q542,327 541.1,323.5 Z" fill="#fff" stroke="#333" stroke-width="1"/>
<path d="M546,321.5 L572,318" stroke="#666" stroke-width="0.8"/>
<path d="M636.7,310 L660,305.5 L662,317 L645,321 Z" fill="#fff" stroke="#333" stroke-width="1"/>
<path d="M655,287 L665,292 L665,305 L657,309" fill="none" stroke="#333" stroke-width="1"/>
<path d="M527,279 L530,292 L535,301 L545,308 L551,309 M532,290 L545,283 L553,287 M536,296 L548,290 M548,286 L553,289 L551,293" fill="none" stroke="#333" stroke-width="1"/>
<path d="M526.5,279 L530,290" stroke="#111" stroke-width="1.8"/>
<path d="M537,288 L540,290" stroke="#111" stroke-width="2.2"/>
<path d="M553.5,298 L563,297.5 L574.5,303 L574,308 L564,309 L555,303 Z" fill="#fff" stroke="#333" stroke-width="1"/>
<path d="M549,297 L556,293 M551,300 L558,296" stroke="#555" stroke-width="0.9"/>
<path d="M571,304 L574,306" stroke="#111" stroke-width="2"/>
<path d="M569,309 L570,316 M574,309 L574,316" stroke="#777" stroke-width="0.8"/>
<path d="M571,317 L590,331 M576,320 L583,324" stroke="#333" stroke-width="1"/>
<path d="M532.20,259.60 C530.50,258.58 524.62,254.68 522.00,253.50 C519.38,252.32 517.73,251.75 516.50,252.50 C515.27,253.25 513.77,252.42 514.60,258.00 C515.43,263.58 519.87,279.67 521.50,286.00 C523.13,292.33 523.92,294.33 524.40,296.00" stroke="#222" stroke-width="6" fill="none" stroke-linecap="butt" stroke-linejoin="round"/>
<path d="M532.20,259.60 C530.50,258.58 524.62,254.68 522.00,253.50 C519.38,252.32 517.73,251.75 516.50,252.50 C515.27,253.25 513.77,252.42 514.60,258.00 C515.43,263.58 519.87,279.67 521.50,286.00 C523.13,292.33 523.92,294.33 524.40,296.00" stroke="#fff" stroke-width="4" fill="none" stroke-linecap="butt" stroke-linejoin="round"/>
<ellipse cx="532.8" cy="260.2" rx="3" ry="2.0999999999999996" transform="rotate(-60 532.8 260.2)" stroke="#222" stroke-width="1" fill="#fff"/>
<path d="M558.60,274.20 C561.20,275.50 570.30,278.74 574.20,282.00 C578.10,285.26 579.40,287.25 582.00,293.75 C584.60,300.25 587.84,314.81 589.80,321.00 C591.76,327.19 592.05,329.23 593.75,330.90 C595.45,332.57 590.89,335.23 600.00,331.00 C609.11,326.77 639.35,311.05 648.40,305.50 C657.45,299.95 653.32,301.62 654.30,297.70 C655.28,293.78 654.30,284.62 654.30,282.00" stroke="#222" stroke-width="6" fill="none" stroke-linecap="butt" stroke-linejoin="round"/>
<path d="M558.60,274.20 C561.20,275.50 570.30,278.74 574.20,282.00 C578.10,285.26 579.40,287.25 582.00,293.75 C584.60,300.25 587.84,314.81 589.80,321.00 C591.76,327.19 592.05,329.23 593.75,330.90 C595.45,332.57 590.89,335.23 600.00,331.00 C609.11,326.77 639.35,311.05 648.40,305.50 C657.45,299.95 653.32,301.62 654.30,297.70 C655.28,293.78 654.30,284.62 654.30,282.00" stroke="#fff" stroke-width="4" fill="none" stroke-linecap="butt" stroke-linejoin="round"/>
<ellipse cx="558.6" cy="274.2" rx="3" ry="2.0999999999999996" transform="rotate(-60 558.6 274.2)" stroke="#222" stroke-width="1" fill="#fff"/>
<path d="M641,258.3 L651,258.3 Q653.2,258.5 653.2,261 L653.2,268 Q653,270 651,270 L641,270 Q639,269.5 639,267.5 L639,261 Q639,258.5 641,258.3 Z" fill="#fff" stroke="#333" stroke-width="1"/>
<path d="M642,261.5 L651,261.5" stroke="#222" stroke-width="1.4"/>
<path d="M645,270 Q645,266 648,266 Q651,267 651.5,271 L652,273" fill="none" stroke="#222" stroke-width="1"/>
<path d="M655,256 L663,252 L668,258 L664,263 L667,267 L661,272 L658,268" fill="#fff" stroke="#333" stroke-width="1"/>
<path d="M654,256 L659,262 M657,254 L660,258" stroke="#111" stroke-width="1.4"/>
<path d="M725.00,195.50 L805.00,239.50" stroke="#222" stroke-width="7.5" fill="none" stroke-linecap="butt" stroke-linejoin="round"/>
<path d="M725.00,195.50 L805.00,239.50" stroke="#fff" stroke-width="5.5" fill="none" stroke-linecap="butt" stroke-linejoin="round"/>
<ellipse cx="725" cy="195.5" rx="3.6" ry="2.52" transform="rotate(-62 725 195.5)" stroke="#222" stroke-width="1" fill="#fff"/>
<ellipse cx="805" cy="239.5" rx="3.6" ry="2.52" transform="rotate(-62 805 239.5)" stroke="#222" stroke-width="1" fill="#fff"/>
<path d="M762.2,165.2 L787.6,186.8 L788.9,190.6 L782.5,193.2 L776.2,188 L760,170 Z" fill="#fff" stroke="#333" stroke-width="1"/>
<circle cx="783.5" cy="190" r="1.1" fill="#222"/>
<path d="M643.3,247.7 L678.4,215.6 L692.5,200.8 L686.25,214 L680,216.4 L648,240.6 Z" fill="#fff" stroke="#222" stroke-width="1" stroke-linejoin="round"/>
<path d="M660,230 L664,226 L668,229 L664,232 Z" fill="#222"/>
<path d="M645.50,262.00 C645.42,260.08 645.08,255.83 645.00,250.50 C644.92,245.17 644.33,235.75 645.00,230.00 C645.67,224.25 646.17,223.83 649.00,216.00 C651.83,208.17 657.67,190.67 662.00,183.00 C666.33,175.33 666.17,177.67 675.00,170.00 C683.83,162.33 707.50,142.92 715.00,137.00 C722.50,131.08 719.17,134.92 720.00,134.50" stroke="#222" stroke-width="7" fill="none" stroke-linecap="butt" stroke-linejoin="round"/>
<path d="M645.50,262.00 C645.42,260.08 645.08,255.83 645.00,250.50 C644.92,245.17 644.33,235.75 645.00,230.00 C645.67,224.25 646.17,223.83 649.00,216.00 C651.83,208.17 657.67,190.67 662.00,183.00 C666.33,175.33 666.17,177.67 675.00,170.00 C683.83,162.33 707.50,142.92 715.00,137.00 C722.50,131.08 719.17,134.92 720.00,134.50" stroke="#fff" stroke-width="5" fill="none" stroke-linecap="butt" stroke-linejoin="round"/>
<path d="M726.30,138.00 C728.08,142.00 732.72,155.00 737.00,162.00 C741.28,169.00 748.67,174.17 752.00,180.00 C755.33,185.83 755.92,188.83 757.00,197.00 C758.08,205.17 757.67,222.50 758.50,229.00 C759.33,235.50 761.42,234.83 762.00,236.00" stroke="#222" stroke-width="6.5" fill="none" stroke-linecap="butt" stroke-linejoin="round"/>
<path d="M726.30,138.00 C728.08,142.00 732.72,155.00 737.00,162.00 C741.28,169.00 748.67,174.17 752.00,180.00 C755.33,185.83 755.92,188.83 757.00,197.00 C758.08,205.17 757.67,222.50 758.50,229.00 C759.33,235.50 761.42,234.83 762.00,236.00" stroke="#fff" stroke-width="4.5" fill="none" stroke-linecap="butt" stroke-linejoin="round"/>
<path d="M757.00,155.00 C757.75,158.82 759.37,172.70 761.50,177.90 C763.63,183.10 765.88,186.35 769.80,186.20 C773.72,186.05 779.47,180.60 785.00,177.00 C790.53,173.40 796.68,169.98 803.00,164.60 C809.32,159.22 817.37,152.72 822.90,144.70 C828.43,136.68 833.98,121.20 836.20,116.50" stroke="#222" stroke-width="7" fill="none" stroke-linecap="butt" stroke-linejoin="round"/>
<path d="M757.00,155.00 C757.75,158.82 759.37,172.70 761.50,177.90 C763.63,183.10 765.88,186.35 769.80,186.20 C773.72,186.05 779.47,180.60 785.00,177.00 C790.53,173.40 796.68,169.98 803.00,164.60 C809.32,159.22 817.37,152.72 822.90,144.70 C828.43,136.68 833.98,121.20 836.20,116.50" stroke="#fff" stroke-width="5" fill="none" stroke-linecap="butt" stroke-linejoin="round"/>
<path d="M674.80,262.80 C689.17,258.37 739.63,245.10 761.00,236.20 C782.37,227.30 793.78,219.40 803.00,209.40 C812.22,199.40 813.80,185.05 816.30,176.20 C818.80,167.35 817.05,161.00 818.00,156.30 C818.95,151.60 821.33,149.38 822.00,148.00" stroke="#222" stroke-width="7" fill="none" stroke-linecap="butt" stroke-linejoin="round"/>
<path d="M674.80,262.80 C689.17,258.37 739.63,245.10 761.00,236.20 C782.37,227.30 793.78,219.40 803.00,209.40 C812.22,199.40 813.80,185.05 816.30,176.20 C818.80,167.35 817.05,161.00 818.00,156.30 C818.95,151.60 821.33,149.38 822.00,148.00" stroke="#fff" stroke-width="5" fill="none" stroke-linecap="butt" stroke-linejoin="round"/>
<path d="M676.10,262.00 C676.43,257.70 676.10,244.37 678.10,236.20 C680.10,228.03 684.50,221.03 688.10,213.00 C691.70,204.97 694.38,194.67 699.70,188.00 C705.02,181.33 710.95,179.08 720.00,173.00 C729.05,166.92 742.38,158.70 754.00,151.50 C765.62,144.30 781.82,138.13 789.70,129.80 C797.58,121.47 800.47,107.32 801.30,101.50 C802.13,95.68 797.18,96.00 794.70,94.90 C792.22,93.80 796.08,90.62 786.40,94.90 C776.72,99.18 744.90,116.32 736.60,120.60" stroke="#222" stroke-width="7" fill="none" stroke-linecap="butt" stroke-linejoin="round"/>
<path d="M676.10,262.00 C676.43,257.70 676.10,244.37 678.10,236.20 C680.10,228.03 684.50,221.03 688.10,213.00 C691.70,204.97 694.38,194.67 699.70,188.00 C705.02,181.33 710.95,179.08 720.00,173.00 C729.05,166.92 742.38,158.70 754.00,151.50 C765.62,144.30 781.82,138.13 789.70,129.80 C797.58,121.47 800.47,107.32 801.30,101.50 C802.13,95.68 797.18,96.00 794.70,94.90 C792.22,93.80 796.08,90.62 786.40,94.90 C776.72,99.18 744.90,116.32 736.60,120.60" stroke="#fff" stroke-width="5" fill="none" stroke-linecap="butt" stroke-linejoin="round"/>
<ellipse cx="736.6" cy="120.6" rx="3" ry="2.0999999999999996" transform="rotate(-62 736.6 120.6)" stroke="#222" stroke-width="1" fill="#fff"/>
<path d="M680,243.75 L696.4,253.9 L680,260.2 Z" fill="#fff" stroke="#222" stroke-width="1"/>
<path d="M693,253 L699,251" stroke="#111" stroke-width="2"/>
<path d="M686,262 L700,257 M684,266 L690,264" stroke="#111" stroke-width="1.6"/>
<path d="M804.7,89.9 L813,82.5 L828,88.3 L829,99 L812,100 Z" fill="#fff" stroke="#333" stroke-width="1"/>
<circle cx="816" cy="88" r="1.2" fill="none" stroke="#333" stroke-width="0.8"/><circle cx="822" cy="92" r="1.6" fill="none" stroke="#333" stroke-width="0.8"/>
<path d="M837.9,103.2 L842.8,99 L851.1,104.9 L851.1,112 L838,110 Z" fill="#fff" stroke="#333" stroke-width="1"/>
<path d="M808,108.2 L813,119.8 L818,114.8 L826.2,119.8 L832.9,116.5" fill="none" stroke="#333" stroke-width="1"/>
<path d="M837.9,119.8 L841.2,136.4 L846.2,131.4 L852.8,134.7 L856.1,124.8" fill="none" stroke="#333" stroke-width="1"/>
<path d="M806,130 Q809,126 812,129 L812,140 Q809,145 805,140 Z M814,133 Q817,130 819.5,133 L818,146" fill="none" stroke="#333" stroke-width="1"/>
<path d="M798.00,91.60 C808.52,96.30 849.20,114.13 861.10,119.80 C873.00,125.47 864.97,120.07 869.40,125.60 C873.83,131.13 889.50,142.07 887.70,153.00 C885.90,163.93 863.45,184.83 858.60,191.20" stroke="#222" stroke-width="7.2" fill="none" stroke-linecap="butt" stroke-linejoin="round"/>
<path d="M798.00,91.60 C808.52,96.30 849.20,114.13 861.10,119.80 C873.00,125.47 864.97,120.07 869.40,125.60 C873.83,131.13 889.50,142.07 887.70,153.00 C885.90,163.93 863.45,184.83 858.60,191.20" stroke="#fff" stroke-width="5.2" fill="none" stroke-linecap="butt" stroke-linejoin="round"/>
<ellipse cx="798" cy="91.6" rx="3.5" ry="2.4499999999999997" transform="rotate(-64 798 91.6)" stroke="#222" stroke-width="1" fill="#fff"/>
<ellipse cx="858.6" cy="191.2" rx="3.5" ry="2.4499999999999997" transform="rotate(-52 858.6 191.2)" stroke="#222" stroke-width="1" fill="#fff"/>
<path d="M714.85,132.25 L714.87,131.90 L714.91,131.55 L714.99,131.20 L715.09,130.85 L715.21,130.51 L715.37,130.18 L715.54,129.86 L715.74,129.55 L715.97,129.26 L716.21,128.99 L716.47,128.74 L716.75,128.51 L717.04,128.31 L717.34,128.13 L717.65,127.98 L717.97,127.85 L718.29,127.76 L718.62,127.70 L718.95,127.66 L719.27,127.66 L719.59,127.69 L719.90,127.75 L720.20,127.84 L720.49,127.96 L720.77,128.10 L728.57,132.80 L728.83,132.98 L729.07,133.18 L729.28,133.40 L729.48,133.65 L729.66,133.92 L729.81,134.21 L729.93,134.51 L730.03,134.83 L730.10,135.16 L730.14,135.50 L730.15,135.85 L730.13,136.20 L730.09,136.55 L730.01,136.90 L729.91,137.25 L729.79,137.59 L729.63,137.92 L729.46,138.24 L729.26,138.55 L729.03,138.84 L728.79,139.11 L728.53,139.36 L728.25,139.59 L727.96,139.79 L727.66,139.97 L727.35,140.12 L727.03,140.25 L726.71,140.34 L726.38,140.40 L726.05,140.44 L725.73,140.44 L725.41,140.41 L725.10,140.35 L724.80,140.26 L724.51,140.14 L724.23,140.00 L716.43,135.30 L716.17,135.12 L715.93,134.92 L715.72,134.70 L715.52,134.45 L715.34,134.18 L715.19,133.89 L715.07,133.59 L714.97,133.27 L714.90,132.94 L714.86,132.60 Z" stroke="#222" stroke-width="1" fill="#fff" stroke-linejoin="round"/>
<ellipse cx="726.4" cy="136.4" rx="4.2" ry="3.57" transform="rotate(121.07165806084656 726.4 136.4)" stroke="#222" stroke-width="1" fill="#fff"/>
<ellipse cx="726.4" cy="136.4" rx="1.764" ry="1.596" transform="rotate(121.07165806084656 726.4 136.4)" stroke="#222" stroke-width="1.3" fill="#fff"/>
<path d="M745.26,149.52 L745.27,149.16 L745.31,148.81 L745.38,148.46 L745.47,148.11 L745.59,147.77 L745.74,147.43 L745.91,147.11 L746.11,146.80 L746.33,146.50 L746.56,146.23 L746.82,145.97 L747.09,145.74 L747.38,145.53 L747.68,145.35 L747.99,145.19 L748.31,145.06 L748.63,144.97 L748.96,144.90 L749.28,144.86 L749.61,144.85 L749.92,144.87 L750.24,144.93 L750.54,145.01 L750.83,145.12 L751.11,145.27 L759.21,149.97 L759.47,150.14 L759.71,150.33 L759.93,150.56 L760.14,150.80 L760.32,151.06 L760.47,151.35 L760.60,151.65 L760.70,151.97 L760.77,152.30 L760.82,152.64 L760.84,152.98 L760.83,153.34 L760.79,153.69 L760.72,154.04 L760.63,154.39 L760.51,154.73 L760.36,155.07 L760.19,155.39 L759.99,155.70 L759.77,156.00 L759.54,156.27 L759.28,156.53 L759.01,156.76 L758.72,156.97 L758.42,157.15 L758.11,157.31 L757.79,157.44 L757.47,157.53 L757.14,157.60 L756.82,157.64 L756.50,157.65 L756.17,157.63 L755.86,157.57 L755.56,157.49 L755.27,157.38 L754.99,157.23 L746.89,152.53 L746.63,152.36 L746.39,152.17 L746.16,151.94 L745.96,151.70 L745.78,151.44 L745.63,151.15 L745.50,150.85 L745.40,150.53 L745.33,150.20 L745.28,149.86 Z" stroke="#222" stroke-width="1" fill="#fff" stroke-linejoin="round"/>
<ellipse cx="757.1" cy="153.6" rx="4.2" ry="3.57" transform="rotate(120.12431799836108 757.1 153.6)" stroke="#222" stroke-width="1" fill="#fff"/>
<ellipse cx="757.1" cy="153.6" rx="1.764" ry="1.596" transform="rotate(120.12431799836108 757.1 153.6)" stroke="#222" stroke-width="1.3" fill="#fff"/>
<path d="M753.27,234.17 L753.28,233.81 L753.31,233.46 L753.37,233.11 L753.46,232.76 L753.58,232.41 L753.72,232.07 L753.89,231.75 L754.08,231.44 L754.29,231.14 L754.53,230.86 L754.78,230.60 L755.05,230.37 L755.34,230.15 L755.63,229.97 L755.94,229.81 L756.26,229.67 L756.58,229.57 L756.90,229.50 L757.23,229.46 L757.55,229.44 L757.87,229.46 L758.18,229.51 L758.49,229.59 L758.78,229.70 L759.06,229.84 L767.06,234.34 L767.32,234.51 L767.57,234.70 L767.79,234.92 L768.00,235.16 L768.18,235.42 L768.34,235.71 L768.47,236.00 L768.58,236.32 L768.66,236.65 L768.71,236.99 L768.73,237.33 L768.72,237.69 L768.69,238.04 L768.63,238.39 L768.54,238.74 L768.42,239.09 L768.28,239.43 L768.11,239.75 L767.92,240.06 L767.71,240.36 L767.47,240.64 L767.22,240.90 L766.95,241.13 L766.66,241.35 L766.37,241.53 L766.06,241.69 L765.74,241.83 L765.42,241.93 L765.10,242.00 L764.77,242.04 L764.45,242.06 L764.13,242.04 L763.82,241.99 L763.51,241.91 L763.22,241.80 L762.94,241.66 L754.94,237.16 L754.68,236.99 L754.43,236.80 L754.21,236.58 L754.00,236.34 L753.82,236.08 L753.66,235.79 L753.53,235.50 L753.42,235.18 L753.34,234.85 L753.29,234.51 Z" stroke="#222" stroke-width="1" fill="#fff" stroke-linejoin="round"/>
<ellipse cx="765" cy="238" rx="4.2" ry="3.57" transform="rotate(119.35775354279127 765 238)" stroke="#222" stroke-width="1" fill="#fff"/>
<ellipse cx="765" cy="238" rx="1.764" ry="1.596" transform="rotate(119.35775354279127 765 238)" stroke="#222" stroke-width="1.3" fill="#fff"/>
<path d="M722.00,190.00 C725.83,187.67 735.33,184.33 745.00,176.00 C754.67,167.67 772.83,146.83 780.00,140.00 C787.17,133.17 786.33,134.67 788.00,135.00 C789.67,135.33 793.00,137.50 790.00,142.00 C787.00,146.50 775.83,156.67 770.00,162.00 C764.17,167.33 757.50,172.00 755.00,174.00" stroke="#222" stroke-width="5" fill="none" stroke-linecap="butt" stroke-linejoin="round"/>
<path d="M722.00,190.00 C725.83,187.67 735.33,184.33 745.00,176.00 C754.67,167.67 772.83,146.83 780.00,140.00 C787.17,133.17 786.33,134.67 788.00,135.00 C789.67,135.33 793.00,137.50 790.00,142.00 C787.00,146.50 775.83,156.67 770.00,162.00 C764.17,167.33 757.50,172.00 755.00,174.00" stroke="#fff" stroke-width="3" fill="none" stroke-linecap="butt" stroke-linejoin="round"/>
<path d="M678.1,174.8 L683.1,171.5 L704.7,182.3 L703,188 L696.4,189.7 L678.1,179.8 Z" fill="#fff" stroke="#333" stroke-width="1"/>
<path d="M684,174 L690,176 L688,179 Z" fill="none" stroke="#333" stroke-width="0.9"/>
<path d="M671.5,175 L674.5,176.5 L675,198 L672,197.5 Z" fill="#fff" stroke="#333" stroke-width="1"/>
<path d="M686.4,226 Q690,221 697,222 L701.4,226 Q699,230.4 690,230.4 Z" fill="#fff" stroke="#333" stroke-width="1"/>
<circle cx="696" cy="226" r="1" fill="#222"/>
<ellipse cx="691" cy="197" rx="2.8" ry="2.2" transform="rotate(-30 691 197)" stroke="#333" stroke-width="1" fill="#fff"/>
<ellipse cx="700" cy="201" rx="2.3" ry="1.9" transform="rotate(-30 700 201)" stroke="#333" stroke-width="1" fill="#fff"/>
<path d="M656,236 L668,230 L673,238 L668,248 L660,252 L656,246 Z" fill="#fff" stroke="#333" stroke-width="1"/>
<path d="M662,240 L667,236 M660,246 L666,248" stroke="#222" stroke-width="1.4"/>
<path d="M743.8,180.5 L744.4,194.4 L750.8,199.5 L753.3,191.9 L748,184 Z" fill="#fff" stroke="#333" stroke-width="1"/>
<path d="M744.2,186 L744.4,194.4" stroke="#111" stroke-width="1.5"/>
</g>
</svg></body></html>
